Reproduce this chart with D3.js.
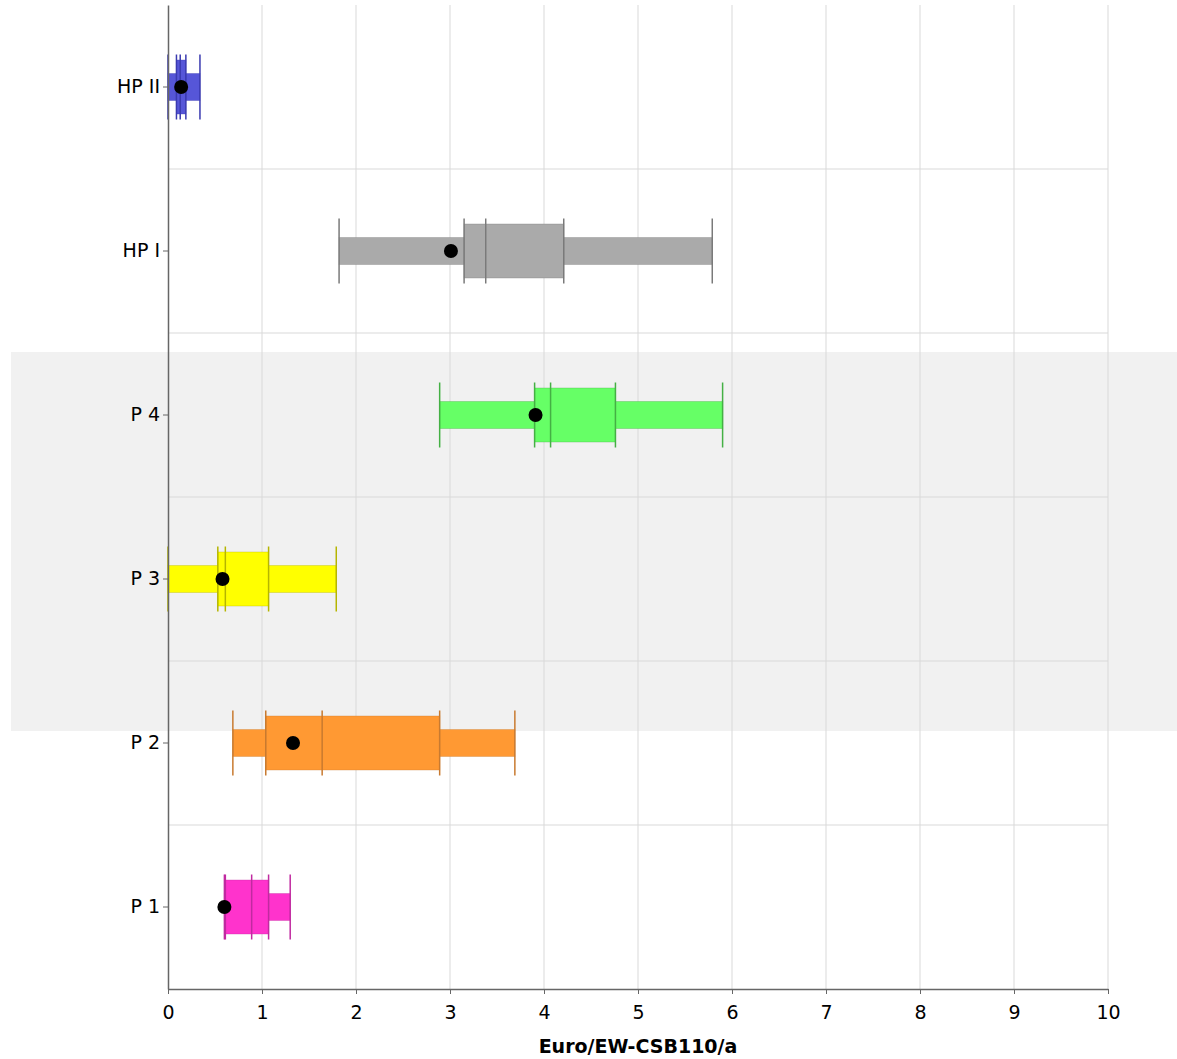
<!DOCTYPE html>
<html>
<head>
<meta charset="utf-8">
<script src="https://cdn.jsdelivr.net/npm/d3@7"></script>
<style>
  html, body { margin: 0; padding: 0; background: #fff; }
  svg { display: block; }
  text { font-family: "DejaVu Sans", sans-serif; }
</style>
</head>
<body>
<div id="chart"></div>
<script>
// Data (Euro/EW-CSB110/a)
const categories = ["HP II", "HP I", "P 4", "P 3", "P 2", "P 1"];
const minVals    = [0.00, 1.82, 2.89, 0.00, 0.69, 0.60];
const q1Vals     = [0.09, 3.15, 3.90, 0.53, 1.04, 0.61];
const medianVals = [0.13, 3.38, 4.07, 0.61, 1.64, 0.89];
const q3Vals     = [0.19, 4.21, 4.76, 1.07, 2.89, 1.07];
const maxVals    = [0.34, 5.79, 5.90, 1.79, 3.69, 1.30];
const meanVals   = [0.14, 3.01, 3.91, 0.58, 1.33, 0.60];
const xTicks     = [0, 1, 2, 3, 4, 5, 6, 7, 8, 9, 10];

// Colours per category
const fillColours   = ["#5656d8", "#aaaaaa", "#66ff66", "#ffff00", "#ff9933", "#ff33cc"];
const strokeColours = ["#3a3ab0", "#7a7a7a", "#44b044", "#b5b500", "#c87a30", "#c02aa0"];

const width = 1177;
const height = 1059;
const margin = {top: 5, left: 168, right: 69, bottom: 70};
const innerWidth = width - margin.left - margin.right;
const innerHeight = height - margin.top - margin.bottom;

const data = categories.map((c, i) => ({
  cat: c, min: minVals[i], q1: q1Vals[i], median: medianVals[i],
  q3: q3Vals[i], max: maxVals[i], mean: meanVals[i],
  fill: fillColours[i], stroke: strokeColours[i]
}));

const svg = d3.select("#chart")
  .append("svg")
    .attr("width", width)
    .attr("height", height);

// Shaded highlight band behind the plot
svg.append("rect")
  .attr("x", 11)
  .attr("y", 352)
  .attr("width", width - 11)
  .attr("height", 379)
  .attr("fill", "#f1f1f1");

const innerChart = svg.append("g")
  .attr("transform", `translate(${margin.left}, ${margin.top})`);

// Scales
const xScale = d3.scaleLinear()
  .domain([0, 10])
  .range([0, innerWidth]);
const yScale = d3.scaleBand()
  .domain(categories)
  .range([0, innerHeight])
  .padding(0);
const bw = yScale.bandwidth();

// Vertical grid lines
innerChart.selectAll(".grid-x")
  .data(xTicks.slice(1))
  .join("line")
    .attr("class", "grid-x")
    .attr("x1", d => xScale(d))
    .attr("x2", d => xScale(d))
    .attr("y1", 0)
    .attr("y2", innerHeight)
    .attr("stroke", "#d9d9d9")
    .attr("stroke-width", 1);

// Horizontal separators between categories
innerChart.selectAll(".grid-y")
  .data(categories.slice(1))
  .join("line")
    .attr("class", "grid-y")
    .attr("x1", 0)
    .attr("x2", innerWidth)
    .attr("y1", d => yScale(d))
    .attr("y2", d => yScale(d))
    .attr("stroke", "#d9d9d9")
    .attr("stroke-width", 1);

// Box plot groups
const rows = innerChart.selectAll(".row")
  .data(data)
  .join("g")
    .attr("class", "row")
    .attr("transform", d => `translate(0, ${yScale(d.cat) + bw / 2})`);

const whiskerHalf = 13.5;
const boxHalf = 27;
const tickHalf = 32.5;

// Whisker bar (min to max)
rows.append("rect")
  .attr("x", d => xScale(d.min))
  .attr("y", -whiskerHalf)
  .attr("width", d => xScale(d.max) - xScale(d.min))
  .attr("height", whiskerHalf * 2)
  .attr("fill", d => d.fill)
  .attr("stroke", d => d.stroke)
  .attr("stroke-opacity", 0.35)
  .attr("stroke-width", 1);

// Box (Q1 to Q3)
rows.append("rect")
  .attr("x", d => xScale(d.q1))
  .attr("y", -boxHalf)
  .attr("width", d => xScale(d.q3) - xScale(d.q1))
  .attr("height", boxHalf * 2)
  .attr("fill", d => d.fill)
  .attr("stroke", d => d.stroke)
  .attr("stroke-opacity", 0.35)
  .attr("stroke-width", 1);

// Vertical marker lines at min, Q1, median, Q3, max
rows.each(function(d) {
  d3.select(this).selectAll(".mark")
    .data([d.min, d.q1, d.median, d.q3, d.max])
    .join("line")
      .attr("class", "mark")
      .attr("x1", v => xScale(v))
      .attr("x2", v => xScale(v))
      .attr("y1", -tickHalf)
      .attr("y2", tickHalf)
      .attr("stroke", d.stroke)
      .attr("stroke-width", 1.5);
});

// Mean dot
rows.append("circle")
  .attr("cx", d => xScale(d.mean))
  .attr("cy", 0)
  .attr("r", 7)
  .attr("fill", "#000");

// Axes
const bottomAxis = d3.axisBottom(xScale)
  .tickValues(xTicks)
  .tickSizeInner(5)
  .tickSizeOuter(0)
  .tickPadding(12);
const xAxisG = innerChart.append("g")
  .attr("class", "axis-x")
  .attr("transform", `translate(0, ${innerHeight})`)
  .call(bottomAxis);
xAxisG.select(".domain").attr("stroke", "#666").attr("stroke-width", 1.5);
xAxisG.selectAll(".tick line").attr("stroke", "#666");
xAxisG.selectAll(".tick text")
  .attr("fill", "#000")
  .attr("text-anchor", "middle")
  .attr("font-size", 19)
  .style("font-size", "19px")
  .style("font-family", "DejaVu Sans, sans-serif");

const leftAxis = d3.axisLeft(yScale)
  .tickSizeInner(5)
  .tickSizeOuter(0)
  .tickPadding(3);
const yAxisG = innerChart.append("g")
  .attr("class", "axis-y")
  .call(leftAxis);
yAxisG.select(".domain").attr("stroke", "#666").attr("stroke-width", 1.5);
yAxisG.selectAll(".tick line").attr("stroke", "#666");
yAxisG.selectAll(".tick text")
  .attr("fill", "#000")
  .attr("text-anchor", "end")
  .attr("font-size", 19)
  .style("font-size", "19px")
  .style("font-family", "DejaVu Sans, sans-serif");

// Axis title
svg.append("text")
  .attr("x", margin.left + xScale(5))
  .attr("y", 1053)
  .attr("text-anchor", "middle")
  .style("font-size", "19px")
  .style("font-weight", "bold")
  .text("Euro/EW-CSB110/a");
</script>
</body>
</html>
